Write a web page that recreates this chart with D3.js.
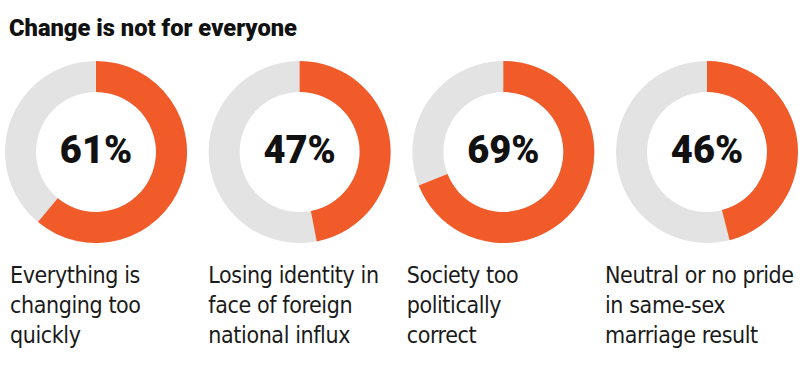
<!DOCTYPE html>
<html>
<head>
<meta charset="utf-8">
<script src="https://cdn.jsdelivr.net/npm/d3@7"></script>
<style>
  body { margin: 0; background: #fff; }
  svg { display: block; }
</style>
</head>
<body>
<div id="chart"></div>
<script>
// chart data
const title = "Change is not for everyone"
const categories = [
  ["Everything is", "changing too", "quickly"],
  ["Losing identity in", "face of foreign", "national influx"],
  ["Society too", "politically", "correct"],
  ["Neutral or no pride", "in same-sex", "marriage result"]
]
const values = [61, 47, 69, 46]

const width = 800
const height = 371
const outerR = 91
const innerR = 60
const cy = 152

const svg = d3.select("#chart")
  .append("svg")
    .attr("width", width)
    .attr("height", height)

// title
svg.append("text")
  .attr("x", 9)
  .attr("y", 36)
  .attr("textLength", 288)
  .attr("lengthAdjust", "spacingAndGlyphs")
  .style("font-family", "Roboto, 'DejaVu Sans', sans-serif")
  .style("font-weight", 900)
  .style("font-size", "24px")
  .style("fill", "#111")
  .text(title)

// one donut per category
const x = d3.scalePoint()
  .domain(d3.range(values.length))
  .range([96, 707])

// label columns don't line up exactly with donuts
const xLabel = d3.scalePoint()
  .domain(d3.range(values.length))
  .range([10, 605])

const pct = d3.scaleLinear().domain([0, 100]).range([0, 2 * Math.PI])

const arc = d3.arc()
  .innerRadius(innerR)
  .outerRadius(outerR)

const groups = svg.selectAll("g.donut")
  .data(values)
  .join("g")
    .attr("class", "donut")
    .attr("transform", (d, i) => `translate(${x(i)},${cy})`)

// grey background ring
groups.append("path")
  .attr("d", arc({startAngle: 0, endAngle: 2 * Math.PI}))
  .style("fill", "#e3e3e3")

// orange share
groups.append("path")
  .attr("d", d => arc({startAngle: 0, endAngle: pct(d)}))
  .style("fill", "#f15a29")

// percent number
groups.append("text")
  .attr("text-anchor", "middle")
  .attr("y", 11)
  .style("font-family", "Roboto, 'DejaVu Sans', sans-serif")
  .style("font-weight", 900)
  .style("font-size", "38px")
  .style("fill", "#111")
  .text(d => d + "%")

// labels under donut
const labels = svg.selectAll("text.label")
  .data(categories)
  .join("text")
    .attr("class", "label")
    .attr("x", (d, i) => xLabel(i))
    .attr("y", 283)
    .style("font-family", "'DejaVu Sans Condensed', 'Liberation Sans Narrow', Roboto, sans-serif")
    .style("font-size", "23px")
    .style("letter-spacing", "-0.4px")
    .style("fill", "#1a1a1a")

labels.selectAll("tspan")
  .data(d => d)
  .join("tspan")
    .attr("x", function() { return d3.select(this.parentNode).attr("x") })
    .attr("dy", (d, i) => i == 0 ? 0 : 30)
    .text(d => d)
</script>
</body>
</html>
